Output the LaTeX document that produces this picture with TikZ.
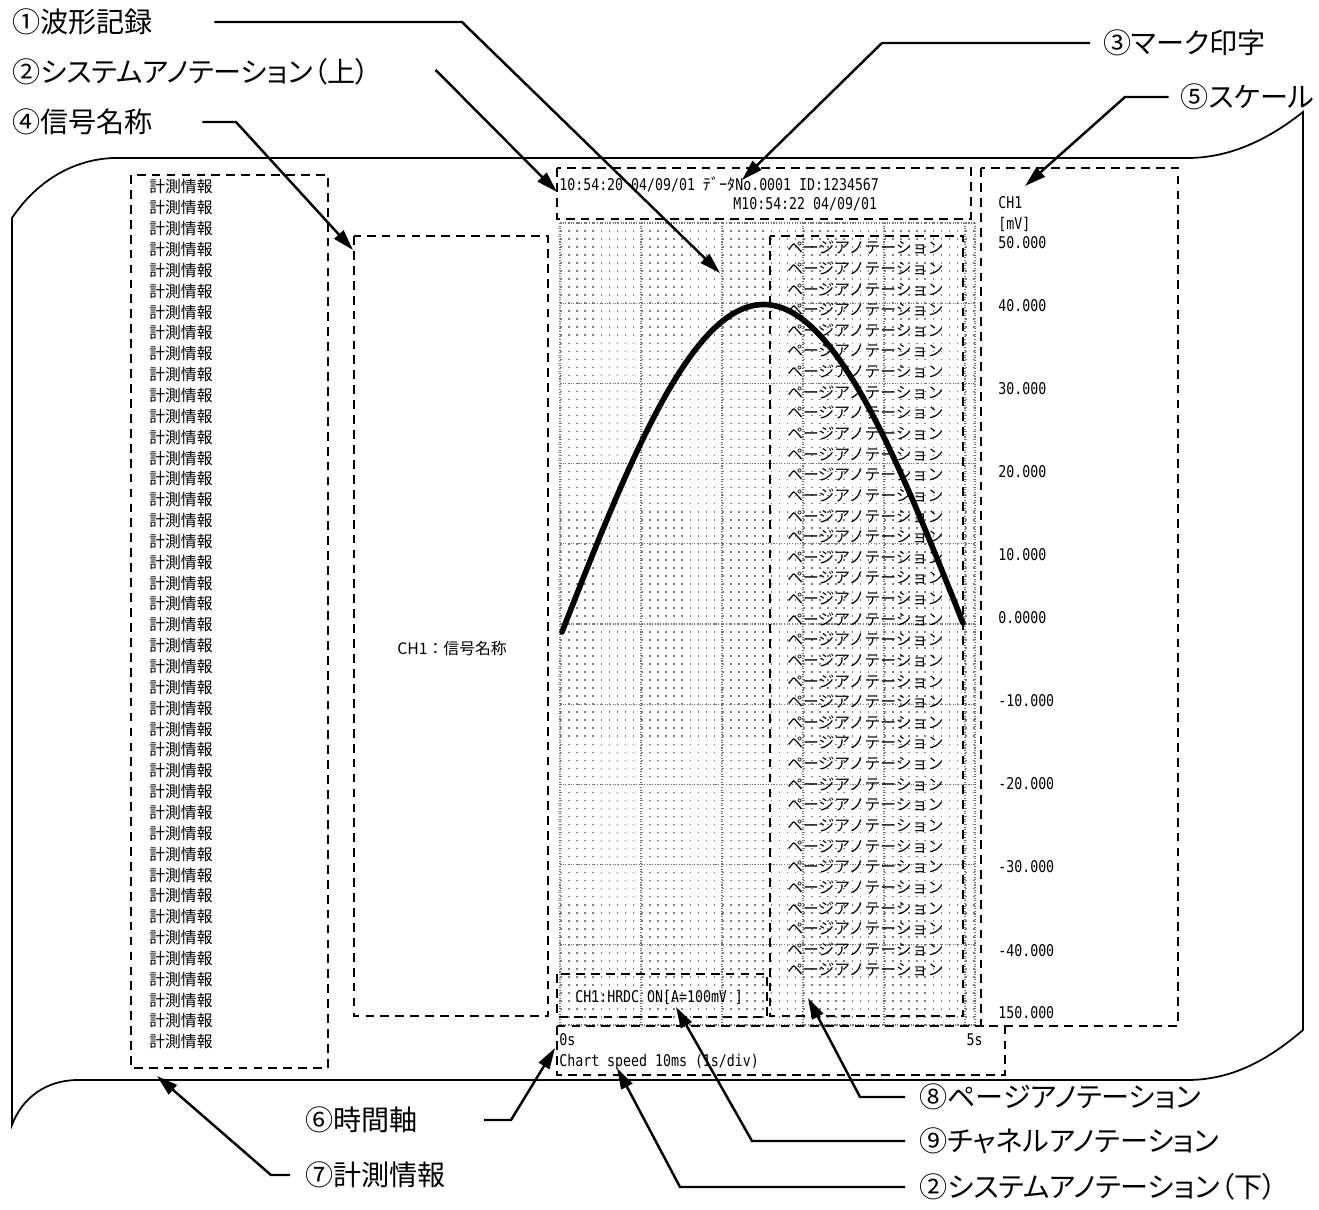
\documentclass[tikz,border=0pt]{standalone}
\usepackage{fontspec}
\usepackage{tikz}
\usetikzlibrary{arrows.meta, calc}

\newfontfamily\jplabel[RawFeature=+palt]{Noto Sans CJK JP}
\newfontfamily\jptext{Noto Sans CJK JP}
\newfontfamily\chartmono[FakeStretch=0.82]{DejaVu Sans Mono}

\begin{document}
\begin{tikzpicture}[x=0.02cm, y=-0.02cm,
    callout/.style={line width=1.4pt, -{Triangle[length=12pt, width=7pt]}},
    callout label/.style={anchor=west, inner sep=0pt, font=\jplabel\fontsize{16}{19}\selectfont},
    region/.style={line width=1pt, dash pattern=on 5pt off 3.5pt},
    chart text/.style={anchor=west, inner sep=0pt, font=\chartmono\fontsize{9.2}{11}\selectfont},
    info text/.style={anchor=west, inner sep=0pt, font=\jptext\fontsize{9}{11}\selectfont},
    major/.style={black!55, line width=0.6pt, dash pattern=on 0.6pt off 0.9pt},
    minor/.style={black!50, line width=0.9pt, dash pattern=on 0.9pt off 3.71pt},
    wave/.style={line width=3.2pt, line join=round, line cap=round}]

    \useasboundingbox (0,0) rectangle (1319,1210);

    % paper sheet
    \draw[line width=1pt] (12,1125) -- (12,218)
        .. controls (32,188) and (66,160) .. (113,158) -- (1187,158)
        .. controls (1232,158) and (1270,138) .. (1303,112) -- (1303,1030)
        .. controls (1268,1060) and (1232,1080) .. (1187,1080) -- (78,1080)
        .. controls (46,1080) and (22,1098) .. (12,1125) -- cycle;

    % chart grid: dot raster + division lines
    \foreach \j in {0,...,100}
        \draw[minor] (560,{223+8.02*\j}) -- (975,{223+8.02*\j});
    \foreach \i in {0,...,5}
        \draw[major] ({560+81*\i},223) -- ({560+81*\i},1025);
    \draw[major] (975,223) -- (975,1025);
    \foreach \j in {0,...,10}
        \draw[major] (560,{223+80.2*\j}) -- (975,{223+80.2*\j});

    % waveform
    \draw[wave] plot[variable=\t, domain=0:180, samples=120]
        ({562+2.2278*\t}, {632-0.05*\t-323*sin(\t)});

    % print regions
    \draw[region] (131,175) rectangle (328,1068);   % measurement info
    \draw[region] (354,236) rectangle (548,1016);   % signal name
    \draw[region] (557,168) rectangle (971,219);    % system annotation (top)
    \draw[region] (981,168) rectangle (1178,1026);  % scale
    \draw[region] (770,236) rectangle (963,1016);   % page annotation
    \draw[region] (557,974) rectangle (767,1017);   % channel annotation
    \draw[region] (557,1026) rectangle (1005,1075); % system annotation (bottom)

    % measurement info
    \foreach \k in {0,...,41}
        \node[info text] (m\k) at (149,{187+20.85*\k}) {計測情報};

    % page annotation
    \foreach \k in {0,...,35}
        \node[info text] (p\k) at (787,{248+20.63*\k}) {ページアノテーション};

    % signal name
    \node[info text, anchor=center] (sig) at (452,648) {CH1：信号名称};

    % system annotation
    \node[chart text] (sys1) at (559,184) {10:54:20 04/09/01 {\jptext ﾃﾞｰﾀ}No.0001 ID:1234567};
    \node[chart text] (sys2) at (733,204) {M10:54:22 04/09/01};
    \node[chart text] (t0) at (559,1040) {0s};
    \node[chart text, anchor=east] (t5) at (983,1040) {5s};
    \node[chart text] (speed) at (559,1062) {Chart speed 10ms (1s/div)};

    % channel annotation
    \node[chart text] (chan) at (575,997) {CH1:HRDC ON[A=100mV ]};

    % scale
    \node[chart text] (unit0) at (998,203) {CH1};
    \node[chart text] (unit1) at (998,224) {[mV]};
    \foreach \v/\y [count=\n] in {50.000/243, 40.000/306, 30.000/389, 20.000/472,
            10.000/555, 0.0000/618, -10.000/701, -20.000/784, -30.000/867,
            -40.000/951, 150.000/1013}
        \node[chart text] (v\n) at (998,\y) {\v};

    % callout labels
    \node[callout label] (l1) at (12,22) {①波形記録};
    \node[callout label] (l2) at (12,72) {②システムアノテーション（上）};
    \node[callout label] (l4) at (12,122) {④信号名称};
    \node[callout label] (l3) at (1103,43) {③マーク印字};
    \node[callout label, anchor=east] (l5) at (1315,97) {⑤スケール};
    \node[callout label] (l6) at (305,1120) {⑥時間軸};
    \node[callout label] (l7) at (305,1175) {⑦計測情報};
    \node[callout label] (l8) at (919,1097) {⑧ページアノテーション};
    \node[callout label] (l9) at (919,1141) {⑨チャネルアノテーション};
    \node[callout label] (l2b) at (919,1187) {②システムアノテーション（下）};

    % arrow targets and bends
    \coordinate (a1) at (720,273);   \coordinate (b1) at (462,22);
    \coordinate (a2) at (557,192);
    \coordinate (a4) at (353,250);   \coordinate (b4) at (236,122);
    \coordinate (a3) at (742,180);   \coordinate (b3) at (882,43);
    \coordinate (a5) at (1025,186);  \coordinate (b5) at (1125,97);
    \coordinate (a6) at (555,1048);  \coordinate (b6) at (511,1120);
    \coordinate (a7) at (157,1076);  \coordinate (b7) at (271,1175);
    \coordinate (a8) at (808,998);   \coordinate (b8) at (860,1097);
    \coordinate (a9) at (676,1007);  \coordinate (b9) at (752,1141);
    \coordinate (a2b) at (617,1068); \coordinate (b2b) at (680,1187);

    % callouts
    \draw[callout] ($(l1.east)+(61,0)$) -- (b1) -- (a1);
    \draw[callout] ($(l2.east)+(66,-2)$) -- (a2);
    \draw[callout] ($(l4.east)+(49,0)$) -- (b4) -- (a4);
    \draw[callout] ($(l3.west)-(13,0)$) -- (b3) -- (a3);
    \draw[callout] ($(l5.west)-(12,0)$) -- (b5) -- (a5);
    \draw[callout] ($(l6.east)+(66,0)$) -- (b6) -- (a6);
    \draw[callout] ($(l7.west)-(15,0)$) -- (b7) -- (a7);
    \draw[callout] ($(l8.west)-(14,0)$) -- (b8) -- (a8);
    \draw[callout] ($(l9.west)-(14,0)$) -- (b9) -- (a9);
    \draw[callout] ($(l2b.west)-(14,0)$) -- (b2b) -- (a2b);
\end{tikzpicture}
\end{document}
